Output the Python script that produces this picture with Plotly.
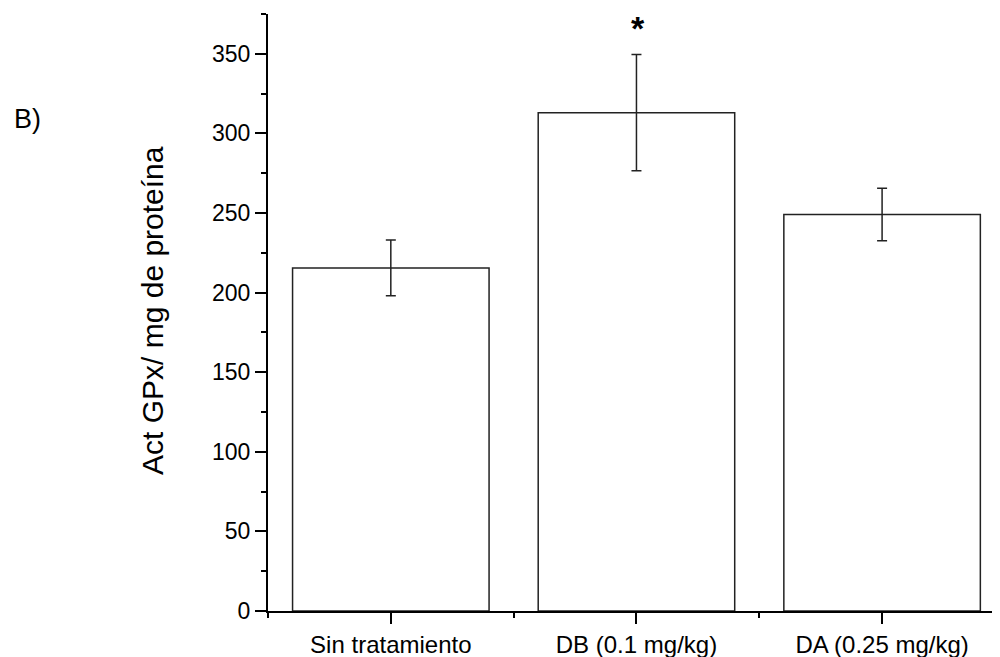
import plotly.graph_objects as go

categories = ["Sin tratamiento", "DB (0.1 mg/kg)", "DA (0.25 mg/kg)"]
values = [215.5, 313, 249]
errors = [17.5, 36.5, 16.5]
y_ticks = [0, 50, 100, 150, 200, 250, 300, 350]

x_pos = list(range(len(categories)))

# plot area in page pixels: x 268..1000, y 14..611
PW, PH = 732, 597
def px(x):
    return (x - 268) / PW
def py(y):
    return 1 - (y - 14) / PH

fig = go.Figure()
fig.add_trace(go.Bar(
    x=x_pos, y=values, width=0.8,
    marker=dict(color="white", line=dict(color="#222222", width=1.5)),
    error_y=dict(type="data", array=errors, visible=True, color="#222222", thickness=1.5, width=5),
))

fig.add_annotation(x=1, y=py(8), text="<b>*</b>", showarrow=False,
                   font=dict(size=34, color="black"), xref="x", yref="paper",
                   yanchor="top", xshift=2, borderpad=0)
fig.add_annotation(x=px(12), y=py(119), xref="paper", yref="paper",
                   text="B)", showarrow=False, font=dict(size=27, color="black"),
                   xanchor="left", yanchor="middle")
fig.add_annotation(x=px(152), y=py(311), xref="paper", yref="paper",
                   text="Act GPx/ mg de proteína", showarrow=False, textangle=-90,
                   font=dict(size=30, color="black"), xanchor="center", yanchor="middle")

fig.update_layout(
    width=992, height=649,
    margin=dict(l=260, r=0, t=6, b=46, autoexpand=False),
    plot_bgcolor="white", paper_bgcolor="white",
    showlegend=False,
    font=dict(family="Liberation Sans, Arial, sans-serif", color="black"),
)

fig.update_xaxes(
    range=[-0.5, 2.48],
    tickvals=x_pos, ticktext=categories,
    ticks="outside", ticklen=11, tickwidth=2, tickcolor="black",
    showline=True, linecolor="black", linewidth=2,
    showgrid=False, zeroline=False,
    tickfont=dict(size=24, color="black"),
    minor=dict(tickvals=[-0.5, 0.5, 1.5, 2.5], ticks="outside", ticklen=5, tickwidth=2, tickcolor="black"),
)
fig.update_yaxes(
    range=[0, 375],
    tickvals=y_ticks,
    ticks="outside", ticklen=11, tickwidth=2, tickcolor="black",
    showline=True, linecolor="black", linewidth=2,
    showgrid=False, zeroline=False,
    tickfont=dict(size=23, color="black"),
    minor=dict(dtick=25, tick0=0, ticks="outside", ticklen=5, tickwidth=2, tickcolor="black"),
)

fig.write_html("out.html")
